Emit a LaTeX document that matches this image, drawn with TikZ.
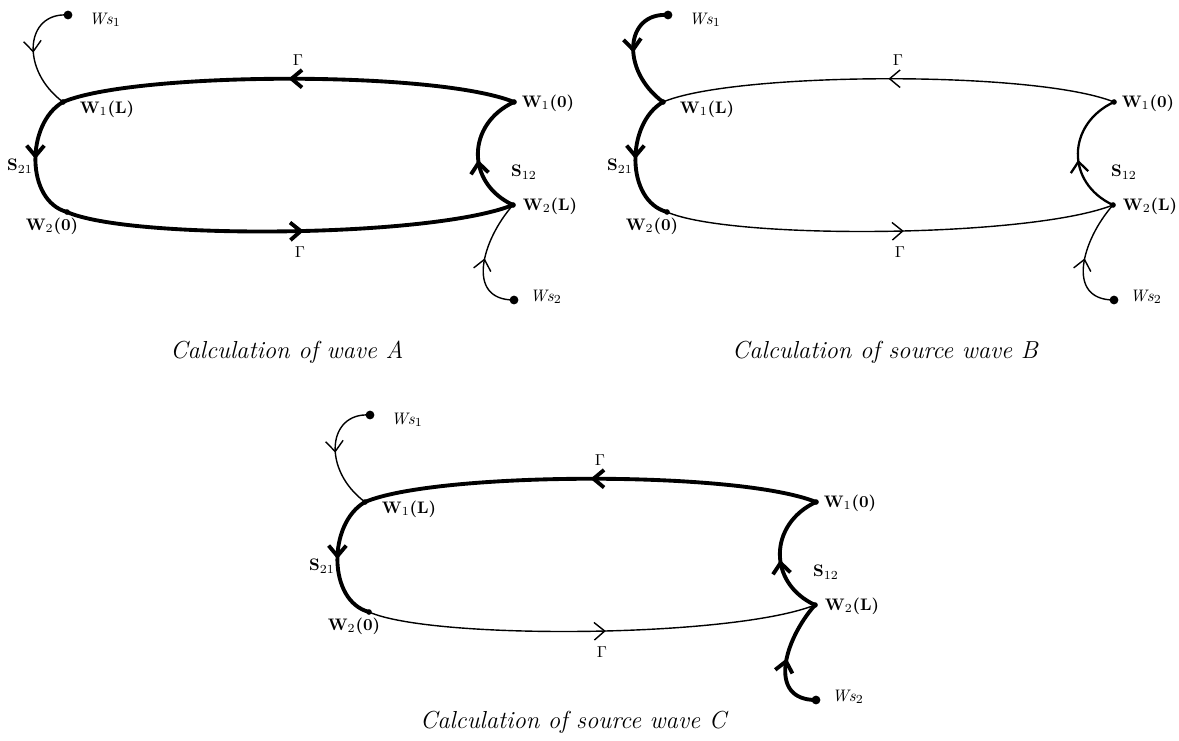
\documentclass[tikz,border=0pt]{standalone}
\usetikzlibrary{decorations.markings,arrows.meta}
\tikzset{
  wthin/.style={line width=0.8pt},
  wmid/.style={line width=1.3pt},
  wthick/.style={line width=2.2pt},
  flow/.style={postaction={decorate},
               decoration={markings, mark=at position #1 with {\arrow{>}}}},
  lbl/.style={inner sep=0pt, font=\fontsize{9.5}{11}\selectfont\bfseries},
  caption/.style={inner sep=0pt, font=\fontsize{14}{16}\selectfont\itshape}
}

% one loop: prefix, x shift, y shift, then styles of Ws1, S21, top, bottom, S12, Ws2
\newcommand{\waveloop}[9]{%
  \begin{scope}[shift={(#2,#3)}]
    \coordinate (#1ws1) at (68,-15);
    \coordinate (#1w1L) at (63,-102);
    \coordinate (#1w1z) at (514,-102);
    \coordinate (#1w2z) at (67,-212);
    \coordinate (#1w2L) at (513,-205);
    \coordinate (#1ws2) at (514,-300);

    \draw[#4,flow=0.5] (#1ws1) .. controls +(-43,3) and +(-43,32) .. (#1w1L);
    \draw[#5,flow=0.5] (#1w1L) to[out=210,in=165] (#1w2z);
    \draw[#6,flow=0.5] (#1w1z) .. controls +(-80,32) and +(70,30) .. (#1w1L);
    \draw[#7,flow=0.53] (#1w2z) .. controls +(63,-28) and +(-83,-33) .. (#1w2L);
    \draw[#8,flow=0.45] (#1w2L) to[out=155,in=205,looseness=1.3] (#1w1z);
    \draw[#9,flow=0.5] (#1ws2) .. controls +(-49,0) and +(-31,-35) .. (#1w2L);

    \fill (#1ws1) circle (2.5pt);
    \fill (#1ws2) circle (2.5pt);
    \foreach \p in {w1L,w1z,w2z,w2L}
      \fill (#1\p) circle (1.6pt);

    \node[lbl] (#1tws1) at (105,-20) {\mdseries\textit{Ws}$_1$};
    \node[lbl] (#1tw1L) at (107,-109) {W$_1$(L)};
    \node[lbl] (#1ts21) at (20,-166) {S$_{21}$};
    \node[lbl] (#1tw2z) at (52,-226) {W$_2$(0)};
    \node[lbl] (#1tw1z) at (548,-103) {W$_1$(0)};
    \node[lbl] (#1ts12) at (524,-172) {S$_{12}$};
    \node[lbl] (#1tw2L) at (550,-206) {W$_2$(L)};
    \node[lbl] (#1tws2) at (546,-297) {\mdseries\textit{Ws}$_2$};
    \node[lbl] (#1tgtop) at (298,-60) {\mdseries$\Gamma$};
    \node[lbl] (#1tgbot) at (300,-252) {\mdseries$\Gamma$};
  \end{scope}}

\begin{document}
\begin{tikzpicture}[x=0.02cm, y=0.02cm, >={Straight Barb[length=6pt,width=10pt]}]
  \useasboundingbox (0,0) rectangle (1179,-740);

  % wave A
  \waveloop{A}{0}{0}{wthin}{wthick}{wthick}{wthick}{wthick}{wthin}
  \node[caption] (capA) at (287,-352) {Calculation of wave A};

  % source wave B
  \waveloop{B}{600}{0}{wthick}{wthick}{wthin}{wthin}{wmid}{wthin}
  \node[caption] (capB) at (885,-352) {Calculation of source wave B};

  % source wave C
  \waveloop{C}{302}{-400}{wthin}{wthick}{wthick}{wthin}{wthick}{wthick}
  \node[caption] (capC) at (573,-722) {Calculation of source wave C};
\end{tikzpicture}
\end{document}
